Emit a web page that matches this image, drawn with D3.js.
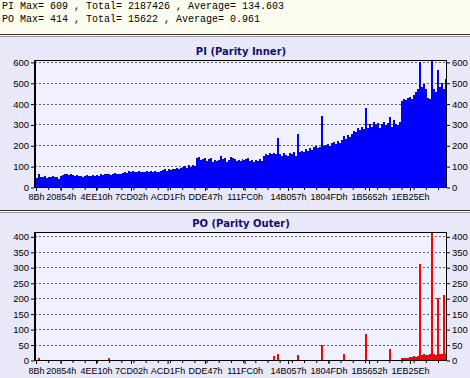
<!DOCTYPE html>
<html>
<head>
<meta charset="utf-8">
<script src="https://cdn.jsdelivr.net/npm/d3@7/dist/d3.min.js"></script>
<style>
	body { margin: 0; background: #fff; }
</style>
</head>
<body>
<div id="chart"></div>
<script>
var headerLines = [
	"PI Max= 609 , Total= 2187426 , Average= 134.603",
	"PO Max= 414 , Total= 15622 , Average= 0.961"
];

// addresses printed under the x axis (hex)
var xTickLabels = ["8Bh", "20854h", "4EE10h", "7CD02h", "ACD1Fh", "DDE47h",
	"111FC0h", "14B057h", "1804FDh", "1B5652h", "1EB25Eh"];

var addressMax = 2211000;

var piTicks = [0, 100, 200, 300, 400, 500, 600],
	poTicks = [0, 50, 100, 150, 200, 250, 300, 350, 400];

var piValues = [
	45,62,50,48,52,44,50,47,53,46,50,36,52,
	58,62,60,56,62,58,55,57,
	52,55,50,54,56,52,55,58,54,57,55,60,
	58,62,60,64,58,62,66,60,64,63,
	68,72,66,75,70,78,74,72,76,70,
	74,70,76,72,75,70,78,74,72,76,
	80,84,78,86,82,88,84,90,86,92,
	95,100,92,104,98,106,100,
	138,142,128,136,140,125,132,138,122,130,126,128,150,134,140,120,130,145,138,132,124,
	130,125,135,128,132,138,126,130,122,128,125,132,124,
	150,160,155,165,158,162,160,
	235,
	158,150,162,155,148,165,160,170,150,
	255,
	168,175,170,180,172,185,178,190,195,188,192,
	340,
	195,200,205,198,210,215,205,220,212,
	225,245,230,250,238,
	255,270,262,285,275,290,280,
	380,
	285,300,290,310,295,305,285,300,310,295,305,335,290,320,300,295,310,
	410,420,415,425,430,420,440,455,470,
	600,
	480,495,470,425,420,
	609,
	470,455,
	560,
	480,500,470,520
];

var poValues = [
	0,8,0,0,0,0,0,0,0,0,0,0,0,0,0,0,0,0,0,0,
	0,0,0,0,0,0,0,0,0,0,0,0,0,0,0,0,5,0,0,0,
	0,0,0,0,0,0,0,0,0,0,0,0,0,0,0,0,0,0,0,0,
	0,0,0,0,0,0,0,0,0,0,0,0,0,0,0,0,0,0,0,0,
	0,0,0,0,0,0,0,0,0,0,0,0,0,0,0,0,0,0,0,0,
	0,0,0,0,0,0,0,0,0,0,0,0,0,0,0,0,0,0,0,12,
	0,18,0,0,0,0,0,0,0,0,0,15,0,0,0,0,0,0,0,0,
	0,0,0,48,0,0,0,0,0,0,0,0,0,0,18,0,0,0,0,0,
	0,0,0,0,0,85,0,0,0,0,0,0,0,0,0,0,0,35,0,0,
	0,0,0,5,6,8,7,9,10,12,10,14,310,16,18,15,17,20,414,18,
	16,200,18,20,210,18
];

var width = 470,
	height = 378,
	plotLeft = 35,
	plotRight = 447,
	sansFont = "'Liberation Sans', Arial, sans-serif";

var svg = d3.select("#chart")
	.append("svg")
	.attr("width", width)
	.attr("height", height);

// header strip
svg.append("rect")
	.attr("x", 0).attr("y", 0)
	.attr("width", width).attr("height", 34)
	.attr("fill", "#fefef0");

headerLines.forEach(function(line, i) {
	svg.append("text")
		.attr("x", 2)
		.attr("y", 9 + i * 13)
		.style("font-family", "'Liberation Mono', 'Courier New', monospace")
		.style("font-size", "10px")
		.attr("fill", "#000")
		.text(line);
});

function separator(y) {
	svg.append("line")
		.attr("x1", 0).attr("x2", width)
		.attr("y1", y + 0.5).attr("y2", y + 0.5)
		.attr("stroke", "#303030");
	svg.append("line")
		.attr("x1", 0).attr("x2", width)
		.attr("y1", y + 2.5).attr("y2", y + 2.5)
		.attr("stroke", "#9a9a9a");
}

// bars start just right of the thick left axis
var x = d3.scaleLinear()
	.domain([0, addressMax])
	.range([plotLeft + 1, plotRight]);

function drawPanel(cfg) {
	svg.append("rect")
		.attr("x", 0).attr("y", cfg.panelTop)
		.attr("width", width).attr("height", cfg.panelBottom - cfg.panelTop)
		.attr("fill", "#e8e8f8");

	svg.append("text")
		.attr("x", (plotLeft + plotRight) / 2)
		.attr("y", cfg.titleY)
		.attr("text-anchor", "middle")
		.style("font-family", "'DejaVu Sans', Verdana, sans-serif")
		.style("font-weight", "bold")
		.style("font-size", "10px")
		.attr("fill", "#10106a")
		.text(cfg.title);

	var y = d3.scaleLinear()
		.domain([0, cfg.yMax])
		.range([cfg.plotBottom, cfg.plotTop]);

	var g = svg.append("g");

	g.append("rect")
		.attr("x", plotLeft).attr("y", cfg.plotTop)
		.attr("width", plotRight - plotLeft)
		.attr("height", cfg.plotBottom - cfg.plotTop)
		.attr("fill", "#f0f0fe");

	// grid
	g.selectAll(".grid")
		.data(cfg.ticks.filter(function(t) { return t > 0; }))
		.enter().append("line")
		.attr("x1", plotLeft).attr("x2", plotRight)
		.attr("y1", function(d) { return Math.round(y(d)) + 0.5; })
		.attr("y2", function(d) { return Math.round(y(d)) + 0.5; })
		.attr("stroke", "#606060")
		.attr("stroke-dasharray", "2,2");

	var step = addressMax / cfg.values.length;
	g.selectAll(".bar")
		.data(cfg.values)
		.enter().append("rect")
		.attr("x", function(d, i) { return x(i * step); })
		.attr("width", x(step) - x(0))
		.attr("y", function(d) { return y(d); })
		.attr("height", function(d) { return cfg.plotBottom - y(d); })
		.attr("fill", cfg.color)
		.attr("shape-rendering", "crispEdges");

	// frame
	g.append("rect")
		.attr("x", plotLeft + 0.5).attr("y", cfg.plotTop + 0.5)
		.attr("width", plotRight - plotLeft - 1)
		.attr("height", cfg.plotBottom - cfg.plotTop)
		.attr("fill", "none")
		.attr("stroke", "#000");
	g.append("line")
		.attr("x1", plotLeft).attr("x2", plotLeft)
		.attr("y1", cfg.plotTop).attr("y2", cfg.plotBottom + 1)
		.attr("stroke", "#000")
		.attr("stroke-width", 2);

	var leftAxis = d3.axisLeft(y).tickValues(cfg.ticks).tickSize(3).tickPadding(2);
	var rightAxis = d3.axisRight(y).tickValues(cfg.ticks).tickSize(3).tickPadding(2);

	var la = svg.append("g")
		.attr("transform", "translate(" + (plotLeft - 1) + ",0.5)")
		.call(leftAxis);
	var ra = svg.append("g")
		.attr("transform", "translate(" + plotRight + ",0.5)")
		.call(rightAxis);

	var minorTicks = d3.range(0, addressMax, 65536);
	var xa = svg.append("g")
		.attr("transform", "translate(0," + (cfg.plotBottom + 1) + ")")
		.call(d3.axisBottom(x).tickValues(minorTicks).tickSize(2).tickFormat(""));
	var xb = svg.append("g")
		.attr("transform", "translate(0," + (cfg.plotBottom + 1) + ")")
		.call(d3.axisBottom(x)
			.tickValues(xTickLabels.map(function(l) { return parseInt(l, 16); }))
			.tickSize(3)
			.tickPadding(cfg.labelPad)
			.tickFormat(function(d, i) { return xTickLabels[i]; }));

	[la, ra, xa, xb].forEach(function(a) {
		a.select(".domain").remove();
		a.attr("font-family", null).attr("font-size", null);
		a.selectAll("text")
			.style("font-family", sansFont)
			.style("font-size", "9.5px")
			.attr("fill", "#000");
		a.selectAll("line").attr("stroke", "#000");
	});
	xb.selectAll("text").style("font-size", "9px");
}

separator(34);
drawPanel({
	panelTop: 37, panelBottom: 210,
	title: "PI (Parity Inner)", titleY: 55,
	plotTop: 60, plotBottom: 187,
	yMax: 609, ticks: piTicks,
	values: piValues, color: "#0000ff",
	labelPad: 3
});

separator(210);
drawPanel({
	panelTop: 213, panelBottom: 378,
	title: "PO (Parity Outer)", titleY: 227,
	plotTop: 232, plotBottom: 360,
	yMax: 414, ticks: poTicks,
	values: poValues, color: "#ff0000",
	labelPad: 4
});
</script>
</body>
</html>
